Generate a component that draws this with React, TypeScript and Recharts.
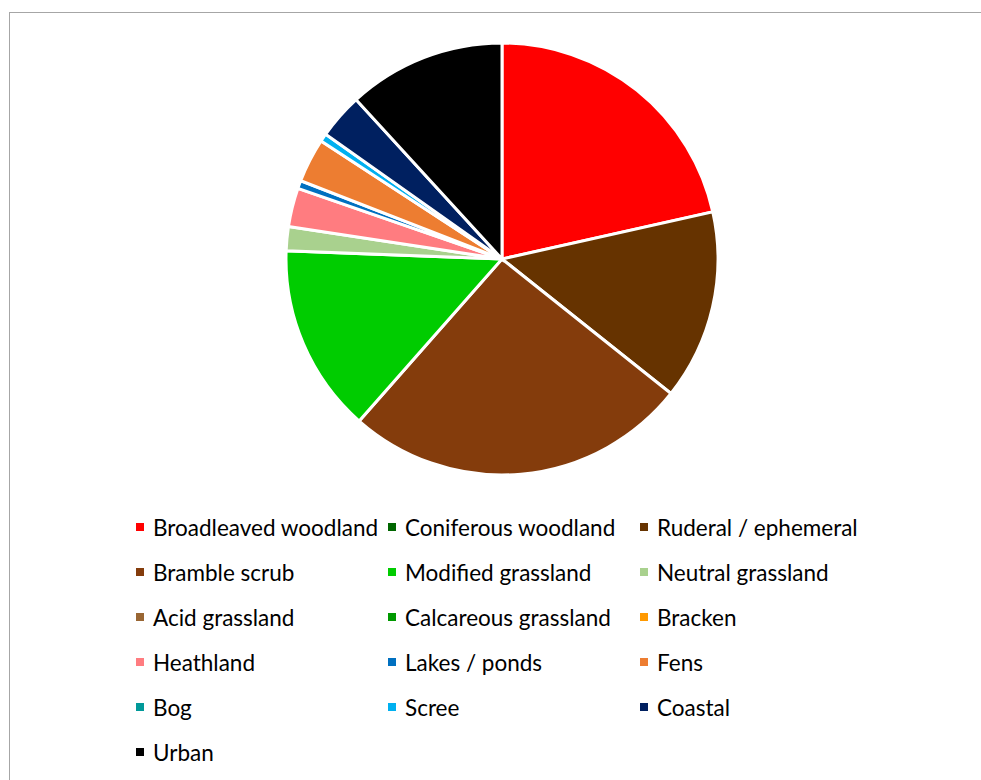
import React from "react";
import { PieChart, Pie, Cell, Legend } from "recharts";

// habitat share (% of area), clockwise from 12 o'clock
const habitats = [
  "Broadleaved woodland", "Coniferous woodland", "Ruderal / ephemeral",
  "Bramble scrub", "Modified grassland", "Neutral grassland",
  "Acid grassland", "Calcareous grassland", "Bracken",
  "Heathland", "Lakes / ponds", "Fens",
  "Bog", "Scree", "Coastal",
  "Urban",
];
const shares = [21.5, 0, 14.2, 25.8, 14.1, 1.8, 0, 0, 0, 2.9, 0.6, 3.3, 0, 0.6, 3.4, 11.8];
const colours = [
  "#FF0000", "#006600", "#663300",
  "#843C0C", "#00CC00", "#A9D18E",
  "#996633", "#009900", "#FF9900",
  "#FF7C80", "#0070C0", "#ED7D31",
  "#009999", "#00B0F0", "#002060",
  "#000000",
];

const data = habitats.map((name, i) => ({ name, value: shares[i] }));
const FONT = "Lato, 'Open Sans', sans-serif";

function HabitatLegend() {
  return (
    <div style={{ display: "grid", gridTemplateColumns: "252px 252px 252px", gridAutoRows: "45px", fontFamily: FONT, fontSize: 22.5, color: "#000" }}>
      {habitats.map((h, i) => (
        <div key={h} style={{ display: "flex", alignItems: "center", height: 28, whiteSpace: "nowrap" }}>
          <span style={{ width: 8, height: 8, background: colours[i], marginRight: 9, flex: "none" }} />
          <span>{h}</span>
        </div>
      ))}
    </div>
  );
}

export default function App() {
  return (
    <div style={{ position: "absolute", left: 0, top: 0, width: 981, height: 780, background: "#fff" }}>
      <div style={{ position: "absolute", left: 9, top: 12, width: 972, height: 768, borderTop: "1px solid #A6A6A6", borderLeft: "1px solid #A6A6A6" }} />
      <PieChart width={981} height={780} margin={{ top: 0, right: 0, bottom: 0, left: 0 }} style={{ position: "absolute", left: 0, top: 0 }}>
        <Pie
          data={data}
          dataKey="value"
          nameKey="name"
          cx={502}
          cy={259}
          outerRadius={216}
          startAngle={90}
          endAngle={-270}
          stroke="#FFFFFF"
          strokeWidth={3}
          isAnimationActive={false}
        >
          {data.map((_, i) => <Cell key={i} fill={colours[i]} />)}
        </Pie>
        <Legend content={() => <HabitatLegend />} wrapperStyle={{ position: "absolute", left: 136, top: 513, width: 800 }} />
      </PieChart>
    </div>
  );
}
